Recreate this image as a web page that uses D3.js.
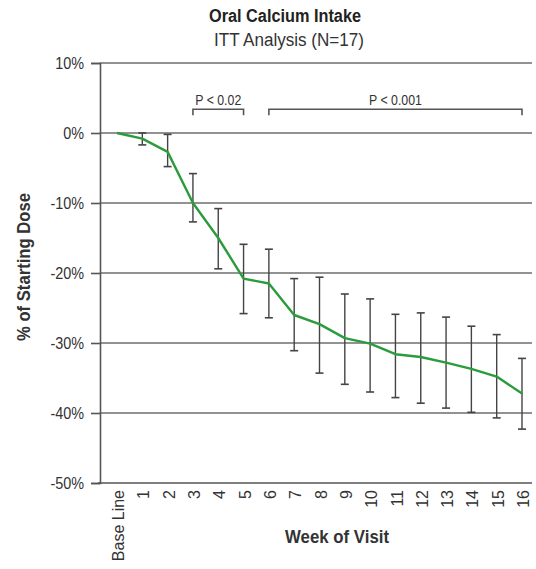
<!DOCTYPE html>
<html>
<head>
<meta charset="utf-8">
<script src="https://cdn.jsdelivr.net/npm/d3@7"></script>
<style>
  html, body { margin: 0; padding: 0; background: #fff; }
  svg { display: block; }
  text { font-family: "Liberation Sans Narrow", "Arial Narrow", "Liberation Sans", sans-serif; fill: #333; }
</style>
</head>
<body>
<svg id="chart" width="536" height="569"></svg>
<script>
// ---- data ----
const categories = ["Base Line","1","2","3","4","5","6","7","8","9","10","11","12","13","14","15","16"];
const meanChange = [0, -0.8, -2.7, -10.0, -15.0, -20.8, -21.5, -26.0, -27.3, -29.3, -30.1, -31.6, -32.0, -32.8, -33.7, -34.8, -37.2];
const errUpper   = [0, 0.0, -0.2, -5.8, -10.8, -15.9, -16.6, -20.8, -20.6, -23.0, -23.7, -25.9, -25.7, -26.3, -27.6, -28.8, -32.2];
const errLower   = [0, -1.7, -4.8, -12.7, -19.4, -25.8, -26.4, -31.1, -34.3, -35.9, -37.0, -37.8, -38.6, -39.3, -39.9, -40.7, -42.3];
const yTicks = [10, 0, -10, -20, -30, -40, -50];
const bracketFrom = ["3", "6"];
const bracketTo = ["5", "16"];
const bracketLabels = ["P < 0.02", "P < 0.001"];
const bracketLevel = 3.4;

const svg = d3.select("#chart");
const x = d3.scalePoint().domain(categories).range([117, 522]);
const y = d3.scaleLinear().domain([-50, 10]).range([483, 63]);
const xLeft = 100, xRight = 532;

// condense text horizontally (reference uses a condensed face)
function condense(sel, factor) {
  sel.each(function () {
    const w = this.getComputedTextLength();
    d3.select(this).attr("textLength", w * factor).attr("lengthAdjust", "spacingAndGlyphs");
  });
}
function fitWidth(sel, width) {
  sel.attr("textLength", width).attr("lengthAdjust", "spacingAndGlyphs");
}

// title
svg.append("text").attr("x", 285).attr("y", 22).attr("text-anchor", "middle")
  .style("font-weight", "bold").style("font-size", "18px").style("fill", "#222").text("Oral Calcium Intake")
  .call(fitWidth, 152);
svg.append("text").attr("x", 289).attr("y", 46).attr("text-anchor", "middle")
  .style("font-size", "18px").style("fill", "#333").text("ITT Analysis (N=17)")
  .call(fitWidth, 150);

// gridlines
svg.append("g").selectAll("line").data(yTicks.filter(d => d > -50)).join("line")
  .attr("x1", xLeft).attr("x2", xRight).attr("y1", d => y(d)).attr("y2", d => y(d))
  .attr("stroke", "#6e6e6e").attr("stroke-width", 1.6);

// y axis
const yAxis = svg.append("g").attr("transform", `translate(${xLeft},0)`)
  .call(d3.axisLeft(y).tickValues(yTicks).tickSize(9).tickPadding(7).tickFormat(d => d + "%"));
yAxis.select(".domain").attr("stroke", "#555").attr("stroke-width", 1.6);
yAxis.selectAll(".tick line").attr("stroke", "#555").attr("stroke-width", 1.6);
yAxis.selectAll(".tick text").style("font-size", "16px").style("font-family", null).attr("fill", null)
  .call(condense, 0.9);

// x axis
const xAxis = svg.append("g").attr("transform", `translate(0,${y(-50)})`)
  .call(d3.axisBottom(x).tickSize(0).tickPadding(0));
xAxis.select(".domain").attr("d", `M${xLeft - 2},0H${xRight}`).attr("stroke", "#555").attr("stroke-width", 1.6);
xAxis.selectAll(".tick text")
  .attr("transform", "rotate(-90)")
  .attr("x", -7).attr("y", 1).attr("dy", "0.35em")
  .attr("text-anchor", "end")
  .style("font-size", "16px").style("font-family", null).attr("fill", null);

// axis titles
svg.append("text").attr("transform", "translate(30,267) rotate(-90)").attr("text-anchor", "middle")
  .style("font-weight", "bold").style("font-size", "18px").style("fill", "#333").text("% of Starting Dose")
  .call(fitWidth, 148);
svg.append("text").attr("x", 337).attr("y", 543).attr("text-anchor", "middle")
  .style("font-weight", "bold").style("font-size", "18px").style("fill", "#333").text("Week of Visit")
  .call(fitWidth, 104);

// brackets
const bracketData = bracketLabels.map((l, i) => ({ from: bracketFrom[i], to: bracketTo[i], label: l }));
const bg = svg.append("g").selectAll("g").data(bracketData).join("g");
bg.append("path")
  .attr("d", d => `M${x(d.from)},${y(bracketLevel) + 6}V${y(bracketLevel)}H${x(d.to)}V${y(bracketLevel) + 6}`)
  .attr("fill", "none").attr("stroke", "#555").attr("stroke-width", 1.6);
bg.append("text").attr("x", d => (x(d.from) + x(d.to)) / 2).attr("y", y(bracketLevel) - 4)
  .attr("text-anchor", "middle").style("font-size", "14px").text(d => d.label)
  .call(condense, 0.88);

// error bars
const eb = svg.append("g").selectAll("g").data(categories.slice(1).map((c, i) => ({ c, lo: errLower[i + 1], hi: errUpper[i + 1] }))).join("g");
eb.append("line").attr("x1", d => x(d.c)).attr("x2", d => x(d.c)).attr("y1", d => y(d.hi)).attr("y2", d => y(d.lo))
  .attr("stroke", "#444").attr("stroke-width", 1.4);
eb.append("line").attr("x1", d => x(d.c) - 4).attr("x2", d => x(d.c) + 4).attr("y1", d => y(d.hi)).attr("y2", d => y(d.hi))
  .attr("stroke", "#444").attr("stroke-width", 1.6);
eb.append("line").attr("x1", d => x(d.c) - 4).attr("x2", d => x(d.c) + 4).attr("y1", d => y(d.lo)).attr("y2", d => y(d.lo))
  .attr("stroke", "#444").attr("stroke-width", 1.6);

// mean line
const line = d3.line().x((d, i) => x(categories[i])).y(d => y(d));
svg.append("path").datum(meanChange).attr("d", line)
  .attr("fill", "none").attr("stroke", "#2a9c3c").attr("stroke-width", 2.4).attr("stroke-linejoin", "round");
</script>
</body>
</html>
